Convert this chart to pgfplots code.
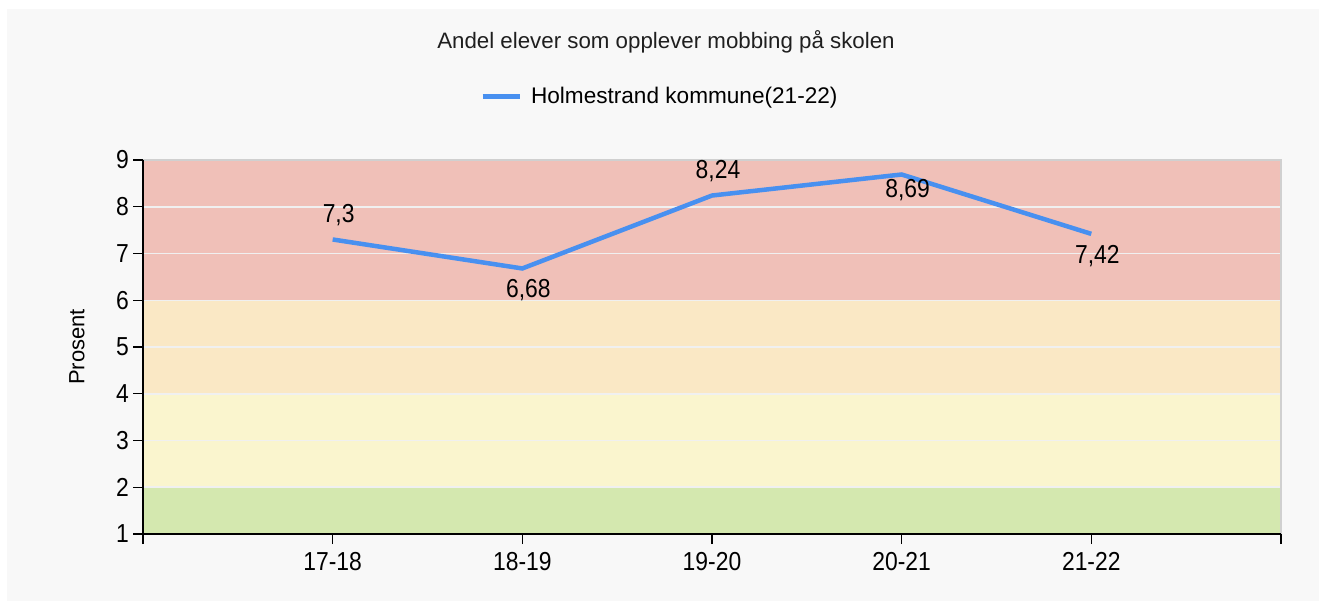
\documentclass[border=0pt]{standalone}
\usepackage{fontspec}
\setmainfont{Liberation Sans}
\newfontfamily\numfont[FakeStretch=0.88]{Liberation Sans}
\usepackage{pgfplots}
\pgfplotsset{compat=1.18}
\definecolor{bggray}{RGB}{248,248,248}
\definecolor{framegray}{RGB}{208,208,208}
\definecolor{gridcol}{RGB}{240,240,240}
\definecolor{bandred}{RGB}{240,192,184}
\definecolor{bandorange}{RGB}{250,232,197}
\definecolor{bandyellow}{RGB}{250,245,206}
\definecolor{bandgreen}{RGB}{212,232,175}
\definecolor{lineblue}{RGB}{72,144,240}
\newcommand{\numsize}{\numfont\fontsize{26bp}{30bp}\selectfont}
\newcommand{\txtsize}{\fontsize{22bp}{26bp}\selectfont}
\begin{document}
\begin{tikzpicture}
\fill[white] (0,0) rectangle (1319bp,601bp);
\fill[bggray] (7bp,0) rectangle (1319bp,592bp);
% background bands axis
\begin{axis}[at={(143bp,67bp)}, anchor=south west, scale only axis,
  width=1138bp, height=374bp, xmin=0, xmax=6, ymin=1, ymax=9,
  axis on top, axis line style={draw=framegray, line width=1.2bp},
  xtick=\empty, ytick={2,...,8}, yticklabels={}, major tick length=0pt,
  ymajorgrids, grid style={draw=gridcol, line width=1.5bp}]
\addplot[fill=bandred, draw=none, forget plot] coordinates {(0,6) (6,6) (6,9) (0,9)} -- cycle;
\addplot[fill=bandorange, draw=none, forget plot] coordinates {(0,4) (6,4) (6,6) (0,6)} -- cycle;
\addplot[fill=bandyellow, draw=none, forget plot] coordinates {(0,2) (6,2) (6,4) (0,4)} -- cycle;
\addplot[fill=bandgreen, draw=none, forget plot] coordinates {(0,1) (6,1) (6,2) (0,2)} -- cycle;
\end{axis}
% data axis
\begin{axis}[at={(143bp,67bp)}, anchor=south west, scale only axis,
  width=1138bp, height=374bp, xmin=0, xmax=6, ymin=1, ymax=9,
  axis x line*=bottom, axis y line*=left,
  axis line style={-, draw=black, line width=1.5bp},
  tick style={black, line width=1.2bp}, tick align=outside, major tick length=10bp,
  xtick={0,...,6}, xticklabels={,17-18,18-19,19-20,20-21,21-22,},
  ytick={1,...,9},
  /pgf/number format/assume math mode=true,
  /pgf/number format/use comma,
  ticklabel style={font=\numsize, inner sep=0pt},
  xticklabel style={anchor=north, yshift=-8bp},
  yticklabel style={anchor=east, xshift=-4bp},
  ylabel={Prosent},
  ylabel style={font=\txtsize, at={(axis description cs:-0.058,0.5)}, anchor=center},
  legend style={at={(axis description cs:0.296,1.171)}, anchor=west, draw=none, fill=none,
    font=\fontsize{22.6bp}{26bp}\selectfont, inner sep=0pt},
  legend image code/.code={\draw[#1, line width=5bp] (0bp,0bp) -- (37bp,0bp);},
  every node near coord/.append style={font=\numsize, inner sep=0pt, anchor=center, xshift=6bp},
  clip=false]
\addplot[lineblue, line width=4.5bp, mark=none] coordinates {(1,7.3) (2,6.68) (3,8.24) (4,8.69) (5,7.42)};
\addlegendentry{\hspace{7bp}Holmestrand kommune(21-22)}
\addplot[draw=none, mark=none, forget plot, nodes near coords,
  every node near coord/.append style={yshift=24bp}] coordinates {(1,7.3) (3,8.24)};
\addplot[draw=none, mark=none, forget plot, nodes near coords,
  every node near coord/.append style={yshift=-22bp}] coordinates {(2,6.68) (5,7.42)};
\addplot[draw=none, mark=none, forget plot, nodes near coords,
  every node near coord/.append style={yshift=-16bp}] coordinates {(4,8.69)};
\end{axis}
\node[font=\fontsize{22.3bp}{26bp}\selectfont, text=black!88, anchor=center] at (666bp,559bp) {Andel elever som opplever mobbing på skolen};
\end{tikzpicture}
\end{document}
